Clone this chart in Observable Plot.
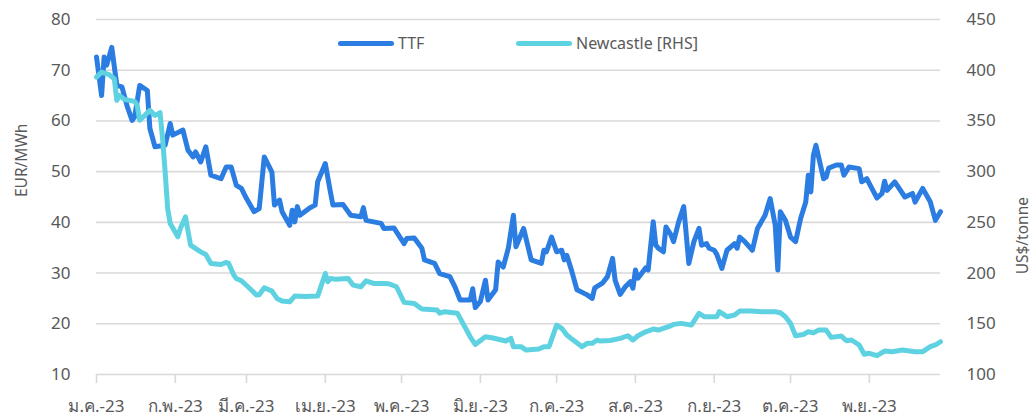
<!DOCTYPE html>
<html>
<head>
<meta charset="utf-8">
<script src="https://cdn.jsdelivr.net/npm/d3@7"></script>
<script src="https://cdn.jsdelivr.net/npm/@observablehq/plot@0.6"></script>
<style>
  html, body { margin: 0; padding: 0; background: #fff; }
  #wrap { position: relative; width: 1033px; height: 420px; font-family: "Noto Sans", "DejaVu Sans", sans-serif; color: #595959; }
  #legend { position: absolute; top: 31px; left: 0; width: 1033px; height: 24px; font-size: 16px; }
  .item { position: absolute; display: flex; align-items: center; height: 24px; }
  .sw { width: 56px; height: 5px; border-radius: 3px; margin-right: 4px; }
</style>
</head>
<body>
<div id="wrap"><div id="legend"></div></div>
<script>
// ---- Data ----
const seriesNames = ["TTF", "Newcastle [RHS]"];
const seriesColors = ["#2b7de1", "#5fd2e1"];

// TTF, EUR/MWh (left axis)
const ttfDates = ["2023-01-01","2023-01-03","2023-01-04","2023-01-05","2023-01-07","2023-01-09","2023-01-11","2023-01-13","2023-01-15","2023-01-16","2023-01-18","2023-01-21","2023-01-22","2023-01-24","2023-01-28","2023-01-30","2023-01-31","2023-02-04","2023-02-06","2023-02-08","2023-02-09","2023-02-11","2023-02-13","2023-02-15","2023-02-19","2023-02-21","2023-02-23","2023-02-25","2023-02-27","2023-03-01","2023-03-04","2023-03-06","2023-03-08","2023-03-11","2023-03-12","2023-03-14","2023-03-15","2023-03-18","2023-03-19","2023-03-20","2023-03-21","2023-03-22","2023-03-26","2023-03-28","2023-03-29","2023-04-01","2023-04-03","2023-04-04","2023-04-08","2023-04-11","2023-04-15","2023-04-16","2023-04-17","2023-04-20","2023-04-23","2023-04-24","2023-04-28","2023-05-02","2023-05-03","2023-05-06","2023-05-09","2023-05-10","2023-05-14","2023-05-16","2023-05-20","2023-05-22","2023-05-24","2023-05-28","2023-05-29","2023-05-30","2023-06-01","2023-06-03","2023-06-04","2023-06-07","2023-06-08","2023-06-10","2023-06-12","2023-06-14","2023-06-15","2023-06-18","2023-06-21","2023-06-25","2023-06-26","2023-06-27","2023-06-29","2023-07-01","2023-07-03","2023-07-04","2023-07-05","2023-07-07","2023-07-09","2023-07-13","2023-07-15","2023-07-16","2023-07-19","2023-07-21","2023-07-23","2023-07-24","2023-07-26","2023-07-28","2023-07-30","2023-07-31","2023-08-01","2023-08-02","2023-08-05","2023-08-06","2023-08-08","2023-08-09","2023-08-10","2023-08-12","2023-08-13","2023-08-15","2023-08-16","2023-08-18","2023-08-20","2023-08-22","2023-08-24","2023-08-26","2023-08-27","2023-08-29","2023-08-30","2023-09-01","2023-09-02","2023-09-04","2023-09-06","2023-09-09","2023-09-10","2023-09-11","2023-09-13","2023-09-16","2023-09-18","2023-09-21","2023-09-23","2023-09-25","2023-09-26","2023-09-27","2023-09-29","2023-10-01","2023-10-03","2023-10-05","2023-10-07","2023-10-08","2023-10-09","2023-10-10","2023-10-11","2023-10-14","2023-10-15","2023-10-16","2023-10-19","2023-10-21","2023-10-22","2023-10-24","2023-10-28","2023-10-29","2023-10-31","2023-11-02","2023-11-04","2023-11-06","2023-11-07","2023-11-08","2023-11-11","2023-11-15","2023-11-18","2023-11-19","2023-11-22","2023-11-25","2023-11-27","2023-11-29"];
const ttfValues = [72.6,65.0,72.6,71.0,74.5,67.0,66.7,63.0,60.1,60.8,67.0,66.0,58.5,54.9,55.2,59.5,57.2,58.2,54.2,52.9,53.9,51.9,54.9,49.3,48.6,50.9,50.9,47.3,46.7,44.7,42.1,42.7,52.9,49.9,43.4,44.4,42.1,39.4,42.4,40.1,43.1,41.4,42.9,43.4,48.0,51.6,46.0,43.4,43.5,41.4,41.1,42.9,40.4,40.1,39.8,38.8,38.9,35.8,36.8,36.9,34.9,32.6,31.9,29.9,29.3,27.3,24.7,24.7,26.9,23.2,24.4,28.6,24.7,26.7,32.2,31.2,34.9,41.4,35.2,38.8,32.6,31.9,34.5,34.2,37.1,34.2,34.5,32.6,33.5,30.3,26.7,25.7,25.0,27.1,28.0,29.3,32.9,28.6,25.8,27.3,28.3,27.0,30.6,29.0,31.0,30.6,40.1,35.5,34.9,34.2,39.1,37.5,36.2,40.1,43.1,31.9,36.2,38.8,35.5,35.8,34.9,34.5,33.7,30.9,34.5,35.8,34.9,37.1,36.2,34.5,38.8,41.4,44.7,39.4,30.6,42.1,40.4,37.1,36.2,40.8,44.0,49.3,46.0,53.2,55.2,48.6,48.9,50.7,51.3,51.3,49.3,50.9,50.6,48.0,48.6,46.7,44.8,45.7,48.1,46.3,48.0,45.0,45.7,44.0,46.7,44.0,40.4,42.1];

// Newcastle coal, US$/tonne (right axis)
const ncDates = ["2023-01-01","2023-01-03","2023-01-06","2023-01-08","2023-01-09","2023-01-10","2023-01-12","2023-01-16","2023-01-17","2023-01-18","2023-01-20","2023-01-22","2023-01-24","2023-01-26","2023-01-27","2023-01-28","2023-01-29","2023-01-30","2023-02-02","2023-02-03","2023-02-05","2023-02-07","2023-02-08","2023-02-11","2023-02-13","2023-02-15","2023-02-19","2023-02-21","2023-02-22","2023-02-24","2023-02-25","2023-02-27","2023-03-02","2023-03-05","2023-03-06","2023-03-08","2023-03-11","2023-03-13","2023-03-15","2023-03-18","2023-03-20","2023-03-24","2023-03-29","2023-04-01","2023-04-02","2023-04-03","2023-04-05","2023-04-10","2023-04-12","2023-04-15","2023-04-17","2023-04-20","2023-04-24","2023-04-26","2023-04-29","2023-05-02","2023-05-06","2023-05-09","2023-05-15","2023-05-16","2023-05-18","2023-05-23","2023-05-28","2023-05-30","2023-06-03","2023-06-06","2023-06-11","2023-06-13","2023-06-14","2023-06-17","2023-06-19","2023-06-24","2023-06-26","2023-06-28","2023-07-01","2023-07-03","2023-07-05","2023-07-07","2023-07-11","2023-07-13","2023-07-15","2023-07-17","2023-07-18","2023-07-22","2023-07-26","2023-07-29","2023-07-31","2023-08-02","2023-08-05","2023-08-08","2023-08-10","2023-08-14","2023-08-16","2023-08-19","2023-08-23","2023-08-26","2023-08-28","2023-09-02","2023-09-03","2023-09-06","2023-09-09","2023-09-11","2023-09-15","2023-09-20","2023-09-25","2023-09-27","2023-09-29","2023-10-01","2023-10-03","2023-10-06","2023-10-08","2023-10-10","2023-10-12","2023-10-15","2023-10-17","2023-10-21","2023-10-23","2023-10-25","2023-10-28","2023-10-30","2023-11-01","2023-11-04","2023-11-07","2023-11-10","2023-11-14","2023-11-19","2023-11-22","2023-11-25","2023-11-27","2023-11-29"];
const ncValues = [393.2,398.1,395.6,391.6,370.3,375.2,371.2,369.3,365.3,350.6,355.5,360.4,355.5,358.1,332.5,299.7,263.6,248.9,235.7,244.0,255.4,227.5,225.8,220.9,218.3,209.5,208.5,210.5,209.5,198.0,194.7,192.4,185.5,178.3,178.5,185.5,182.2,175.0,172.4,171.7,177.3,177.0,177.3,199.6,191.4,194.7,194.0,194.7,188.1,186.5,192.4,189.8,189.8,189.5,186.5,171.1,170.1,164.5,163.5,160.5,161.9,160.3,137.2,129.7,137.2,136.0,133.0,135.6,127.4,127.4,124.1,125.1,127.4,127.4,148.7,145.5,138.9,134.9,127.4,130.7,130.7,134.0,133.0,133.5,135.6,138.2,134.0,138.2,142.1,144.8,143.8,147.1,149.4,150.4,148.7,160.3,157.0,157.0,161.9,157.0,158.6,162.5,162.5,161.9,161.9,160.9,157.0,150.4,138.2,139.5,142.1,141.0,143.8,143.8,136.6,137.9,133.3,134.0,129.1,119.9,120.9,118.5,123.1,122.5,124.1,122.5,122.5,127.4,129.1,132.3];

// Axes
const leftTicks = [10, 20, 30, 40, 50, 60, 70, 80];
const rightTickLabels = [100, 150, 200, 250, 300, 350, 400, 450];
const monthStarts = ["2023-01-01","2023-02-01","2023-03-01","2023-04-01","2023-05-01","2023-06-01","2023-07-01","2023-08-01","2023-09-01","2023-10-01","2023-11-01"];
const monthLabels = ["ม.ค.-23","ก.พ.-23","มี.ค.-23","เม.ย.-23","พ.ค.-23","มิ.ย.-23","ก.ค.-23","ส.ค.-23","ก.ย.-23","ต.ค.-23","พ.ย.-23"];
const xDomain = ["2023-01-01", "2023-11-29"];
const leftTitle = "EUR/MWh";
const rightTitle = "US$/tonne";

// ---- Build ----
const parse = d3.utcParse("%Y-%m-%d");
// right axis maps 100..450 onto left 10..80
const rightToLeft = v => 10 + (v - 100) / 5;

const ttf = ttfDates.map((d, i) => ({date: parse(d), value: ttfValues[i]}));
const nc = ncDates.map((d, i) => ({date: parse(d), value: rightToLeft(ncValues[i])}));
const ticksX = monthStarts.map(parse);
const labelOf = new Map(ticksX.map((d, i) => [+d, monthLabels[i]]));

const gray = "#595959";
const gridColor = "#d9d9d9";
const font = `"Noto Sans", "DejaVu Sans", sans-serif`;

const chart = Plot.plot({
  width: 1033,
  height: 420,
  marginLeft: 96,
  marginRight: 93,
  marginTop: 19,
  marginBottom: 46,
  style: {fontFamily: font, color: gray, background: "#fff", overflow: "visible"},
  x: {type: "utc", domain: xDomain.map(parse)},
  y: {domain: [10, 80]},
  marks: [
    Plot.gridY(leftTicks, {stroke: gridColor, strokeOpacity: 1, strokeWidth: 1.6}),
    Plot.axisX(ticksX, {tickSize: 9, tickPadding: 16, stroke: gridColor, strokeWidth: 1.6, tickFormat: d => labelOf.get(+d), fontSize: 17, fill: gray, label: null}),
    Plot.axisY(leftTicks, {anchor: "left", tickSize: 0, tickPadding: 26, fontSize: 17, fill: gray, label: null}),
    Plot.axisY(leftTicks, {anchor: "right", tickSize: 0, tickPadding: 26, fontSize: 17, fill: gray, textAnchor: "start", tickFormat: d => rightTickLabels[leftTicks.indexOf(d)], label: null}),
    Plot.text([leftTitle], {frameAnchor: "left", dx: -74, rotate: -90, fontSize: 15.5, fill: gray}),
    Plot.text([rightTitle], {frameAnchor: "right", dx: 83, rotate: -90, fontSize: 15.5, fill: gray}),
    Plot.line(ttf, {x: "date", y: "value", stroke: seriesColors[0], strokeWidth: 5, strokeLinejoin: "round", strokeLinecap: "round"}),
    Plot.line(nc, {x: "date", y: "value", stroke: seriesColors[1], strokeWidth: 5, strokeLinejoin: "round", strokeLinecap: "round"})
  ]
});
document.getElementById("wrap").prepend(chart);

// legend overlay
const legend = document.getElementById("legend");
const legendLeft = [338, 516];
seriesNames.forEach((name, i) => {
  const it = document.createElement("div");
  it.className = "item";
  it.style.left = legendLeft[i] + "px";
  it.innerHTML = `<div class="sw" style="background:${seriesColors[i]}"></div><span>${name}</span>`;
  legend.appendChild(it);
});
</script>
</body>
</html>
